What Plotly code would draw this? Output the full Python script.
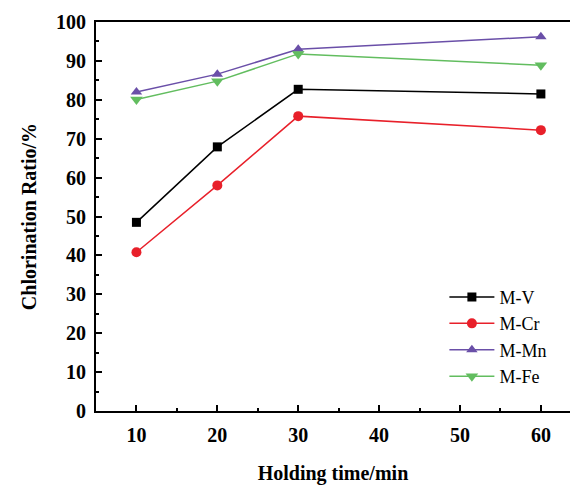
import plotly.graph_objects as go

time_min = [10, 20, 30, 60]
m_v = [48.5, 67.9, 82.7, 81.5]
m_cr = [40.8, 58.0, 75.8, 72.2]
m_mn = [82.0, 86.6, 93.0, 96.2]
m_fe = [80.1, 84.8, 91.8, 88.9]

series = [
    ("M-V", m_v, "#000000", "square", 9),
    ("M-Cr", m_cr, "#e8202a", "circle", 10),
    ("M-Mn", m_mn, "#6a4fa8", "triangle-up", 10),
    ("M-Fe", m_fe, "#62bd5f", "triangle-down", 11),
]

fig = go.Figure()
for name, vals, color, sym, size in series:
    fig.add_trace(go.Scatter(
        x=time_min, y=vals, name=name, mode="lines+markers",
        line=dict(color=color, width=1.5),
        marker=dict(symbol=sym, size=size, color=color),
    ))

tick_font = dict(family="Liberation Serif", size=20, color="black", weight="bold")

fig.update_layout(
    width=570, height=485,
    margin=dict(l=96, r=0, t=22, b=74),
    plot_bgcolor="white", paper_bgcolor="white",
    showlegend=True,
    legend=dict(
        x=0.735, y=0.34, xanchor="left", yanchor="top",
        font=dict(family="Liberation Serif", size=18, color="black"),
        bgcolor="rgba(0,0,0,0)", itemwidth=45, tracegroupgap=0,
    ),
    xaxis=dict(
        range=[5, 63.6], tickvals=[10, 20, 30, 40, 50, 60],
        ticks="inside", ticklen=6, tickwidth=2, tickcolor="black",
        minor=dict(dtick=5, tick0=5, ticks="inside", ticklen=3, tickwidth=2, tickcolor="black"),
        showline=True, linewidth=2, linecolor="black", mirror=True,
        showgrid=False, zeroline=False, automargin=False,
        tickfont=tick_font, ticklabelstandoff=5,
        title=dict(text="Holding time/min", font=tick_font, standoff=36),
    ),
    yaxis=dict(
        range=[0, 100], tickvals=list(range(0, 101, 10)),
        ticks="inside", ticklen=6, tickwidth=2, tickcolor="black",
        minor=dict(dtick=5, tick0=0, ticks="inside", ticklen=3, tickwidth=2, tickcolor="black"),
        showline=True, linewidth=2, linecolor="black",
        showgrid=False, zeroline=False, automargin=False,
        tickfont=tick_font, ticklabelstandoff=4,
        title=dict(text="Chlorination Ratio/%", font=tick_font, standoff=14),
    ),
)

fig.write_html("out.html")
